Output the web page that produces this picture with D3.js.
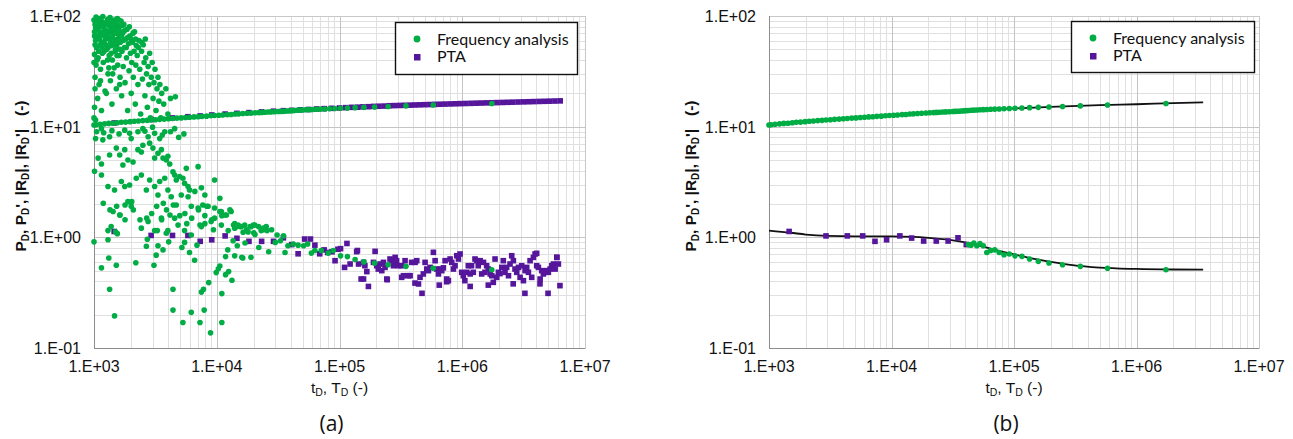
<!DOCTYPE html>
<html>
<head>
<meta charset="utf-8">
<script src="https://d3js.org/d3.v7.min.js"></script>
<style>body{margin:0;background:#fff} text{white-space:pre}</style>
</head>
<body>
<script>
// ---- data ----
var xTicks = [1e3, 1e4, 1e5, 1e6, 1e7];
var xTickLabels = ["1.E+03", "1.E+04", "1.E+05", "1.E+06", "1.E+07"];
var yTicks = [0.1, 1, 10, 100];
var yTickLabels = ["1.E-01", "1.E+00", "1.E+01", "1.E+02"];
var seriesNames = ["Frequency analysis", "PTA"];

// frequency analysis times (both panels), and the smooth upper curve values
var freqT = [1.74e6,5.80e5,3.48e5,2.49e5,1.93e5,1.58e5,1.34e5,1.16e5,1.02e5,9.16e4,8.29e4,7.57e4,6.96e4,6.45e4,6.00e4,5.61e4,5.27e4,4.97e4,4.70e4,4.46e4,4.24e4,4.05e4,3.87e4,3.70e4,3.55e4,3.41e4,3.28e4,3.16e4,2.95e4,2.76e4,2.60e4,2.45e4,2.32e4,2.20e4,2.05e4,1.91e4,1.76e4,1.63e4,1.51e4,1.41e4,1.31e4,1.22e4,1.12e4,1.04e4,9.61e3,8.92e3,8.25e3,7.60e3,7.04e3,6.52e3,6.02e3,5.56e3,5.13e3,4.74e3,4.36e3,4.04e3,3.73e3,3.43e3,3.17e3,2.92e3,2.71e3,2.50e3,2.30e3,2.13e3,1.97e3,1.81e3,1.67e3,1.55e3,1.43e3,1.32e3,1.22e3,1.12e3,1.04e3,1.00e3];
var freqUpper = [16.2,15.7,15.4,15.2,15.05,14.95,14.85,14.75,14.65,14.6,14.5,14.45,14.4,14.35,14.3,14.25,14.2,14.15,14.1,14.05,14.0,13.95,13.9,13.85,13.8,13.75,13.75,13.7,13.65,13.6,13.55,13.5,13.45,13.4,13.35,13.3,13.2,13.15,13.05,13.0,12.9,12.85,12.75,12.7,12.6,12.55,12.45,12.4,12.3,12.25,12.15,12.1,12.0,11.95,11.85,11.8,11.7,11.65,11.55,11.5,11.4,11.35,11.25,11.2,11.1,11.0,10.95,10.85,10.75,10.7,10.6,10.5,10.4,10.35];
// panel (b) lower frequency points, for the first freqT entries
var freqLowerB = [0.51,0.525,0.547,0.566,0.586,0.607,0.637,0.673,0.68,0.707,0.696,0.73,0.77,0.76,0.73,0.84,0.88,0.84,0.89,0.85,0.86];

// panel (a) lower frequency points [tD, value] (noisy)
var freqLowerA = [
[1.00e3,92],[1.01e3,72],[1.01e3,45],[1.02e3,84],[1.02e3,28],[1.03e3,60],[1.04e3,98],[1.04e3,36],[1.05e3,52],[1.06e3,76],[1.07e3,18],[1.08e3,88],[1.08e3,42],[1.09e3,64],[1.10e3,24],[1.11e3,95],[1.12e3,55],[1.13e3,33],[1.14e3,80],[1.15e3,14],[1.16e3,68],[1.17e3,46],[1.18e3,99],[1.19e3,38],[1.20e3,58],[1.22e3,86],[1.23e3,21],[1.25e3,74],[1.27e3,50],[1.29e3,93],
[1.30e3,30],[1.31e3,65],[1.32e3,82],[1.33e3,44],[1.35e3,97],[1.36e3,26],[1.37e3,57],[1.39e3,78],[1.40e3,16],[1.41e3,40],[1.43e3,90],[1.44e3,62],[1.46e3,34],[1.47e3,72],[1.49e3,48],[1.50e3,85],[1.52e3,22],[1.53e3,54],[1.55e3,95],[1.56e3,36],[1.58e3,68],[1.60e3,44],[1.61e3,80],[1.63e3,28],[1.64e3,58],[1.66e3,90],[1.68e3,19],[1.69e3,48],
[1.71e3,70],[1.73e3,35],[1.75e3,84],[1.77e3,52],[1.79e3,25],[1.81e3,62],[1.84e3,42],[1.86e3,76],[1.88e3,14],[1.91e3,56],[1.93e3,32],[1.96e3,66],[1.98e3,46],[2.01e3,20],[2.03e3,38],[2.06e3,58],[2.09e3,28],[2.12e3,48],[2.14e3,72],[2.17e3,16],[2.19e3,36],[2.21e3,54],
[2.25e3,44],[2.28e3,24],[2.32e3,60],[2.36e3,33],[2.40e3,13],[2.44e3,48],[2.48e3,27],[2.52e3,55],[2.56e3,38],[2.60e3,19],[2.64e3,42],[2.68e3,30],[2.72e3,15],[2.76e3,35],[2.80e3,24],[2.84e3,46],[2.88e3,12],[2.62e3,62],
[2.93e3,28],[2.98e3,38],[3.03e3,18],[3.08e3,25],[3.14e3,33],[3.20e3,14],[3.26e3,22],[3.32e3,28],[3.38e3,17],[3.44e3,24],[3.50e3,12],[3.56e3,20],[3.70e3,16],[3.85e3,22],[4.00e3,13],[4.20e3,18],[4.60e3,18.6],
[1.02e3,55],[1.03e3,78],[1.05e3,66],[1.07e3,92],[1.09e3,48],[1.10e3,82],[1.12e3,70],[1.13e3,26],[1.15e3,58],[1.17e3,88],[1.19e3,72],[1.21e3,48],[1.24e3,62],[1.26e3,20],[1.28e3,68],[1.30e3,52],[1.32e3,34],[1.34e3,72],[1.36e3,86],[1.38e3,46],[1.40e3,62],[1.42e3,30],[1.45e3,80],[1.48e3,58],[1.51e3,70],[1.54e3,44],[1.57e3,82],[1.60e3,60],[1.62e3,24],[1.65e3,72],
[1.01e3,66],[1.03e3,90],[1.06e3,40],[1.08e3,75],[1.11e3,62],[1.14e3,90],[1.16e3,52],[1.20e3,80],[1.22e3,66],[1.25e3,55],[1.27e3,85],[1.29e3,40],[1.33e3,62],[1.37e3,75],[1.39e3,54],[1.43e3,68],[1.46e3,92],[1.50e3,50],[1.53e3,76],[1.56e3,62],[1.59e3,92],[1.63e3,50],[1.67e3,66],[1.70e3,82],[1.74e3,60],[1.78e3,74],[1.83e3,52],[1.88e3,64],[1.94e3,80],[2.00e3,62],[2.08e3,70],[2.18e3,62],[2.30e3,52],[2.45e3,58],
[1.00e3,38],[1.01e3,15],[1.02e3,22],[1.00e3,12],[1.03e3,11.5],
[1.15e3,9.6],[1.78e3,9.3],[1.95e3,8.7],[2.01e3,7.8],[2.28e3,9.0],[2.50e3,9.6],[2.76e3,8.1],[3.12e3,8.7],[3.43e3,7.8],[3.77e3,9.0],[4.54e3,9.6],
[1.05e3,9.0],[1.20e3,8.8],[1.40e3,9.2],[1.60e3,8.6],[2.60e3,9.1],[3.00e3,9.9],[3.60e3,8.4],[4.20e3,9.0],[4.90e3,8.0],[5.40e3,8.6],
[1.03e3,7.8],[1.18e3,7.6],[1.34e3,8.1],[1.52e3,6.4],[1.78e3,6.2],[1.08e3,5.2],[1.15e3,4.6],[1.34e3,5.55],[1.62e3,5.55],[1.72e3,4.5],[1.89e3,5.0],[2.08e3,4.8],[2.28e3,6.2],[2.43e3,5.9],[2.50e3,6.8],[2.84e3,7.1],[3.02e3,6.4],[3.12e3,5.2],[3.32e3,5.75],[3.54e3,6.2],[3.65e3,5.2],[3.88e3,5.0],[4.00e3,5.4],[4.14e3,4.6],[4.40e3,3.9],[4.54e3,3.66],[4.68e3,3.3],[4.98e3,3.55],[5.30e3,3.42],[5.47e3,3.08],[5.84e3,2.88],[5.65e3,4.2],[6.00e3,2.68],[6.63e3,2.6],[7.05e3,4.35],[7.50e3,2.8],[8.00e3,2.41],[9.60e3,3.3],
[1.01e3,3.95],[1.15e3,3.66],[1.30e3,2.88],[1.47e3,2.68],[1.67e3,3.2],[1.78e3,2.88],[1.95e3,2.97],[1.89e3,2.1],[2.01e3,1.91],[2.21e3,3.42],[2.43e3,3.66],[2.67e3,2.68],[2.84e3,3.3],[3.12e3,2.88],[3.32e3,2.41],[3.43e3,3.2],[3.77e3,3.42],[4.00e3,2.68],[4.26e3,2.33],[4.68e3,1.96],[5.14e3,2.41],[5.84e3,2.33],[6.20e3,1.91],[7.05e3,1.84],[7.70e3,1.96],[8.50e3,1.91],[9.60e3,1.84],[1.06e4,2.25],[1.09e4,1.71],[1.17e4,1.59],[1.31e4,1.71],[1.40e4,1.33],[1.49e4,1.29],[1.59e4,1.25],[1.69e4,1.29],[1.91e4,1.25],[2.04e4,1.29],[2.30e4,1.15],[2.53e4,1.25],
[1.43e3,1.71],[1.62e3,1.59],[1.30e3,1.15],[1.38e3,1.25],[2.43e3,1.21],[2.76e3,1.39],[3.12e3,1.15],[3.54e3,1.49],[4.00e3,1.15],[4.54e3,1.49],[4.84e3,1.29],[5.47e3,1.15],[6.20e3,1.05],[7.50e3,1.25],[8.00e3,1.33],[9.00e3,1.39],[9.60e3,1.49],[1.09e4,1.29],[1.24e4,1.15],[1.40e4,1.21],
[1.19e3,2.03],[1.35e3,1.77],[1.53e3,1.91],[1.79e3,1.96],[2.03e3,2.1],[1.63e3,1.59],[1.79e3,1.44],[2.09e3,1.77],[2.37e3,1.44],[2.69e3,1.49],[2.95e3,1.64],[3.24e3,1.91],[3.56e3,1.44],[3.67e3,2.03],[3.90e3,1.77],[4.16e3,1.59],[4.43e3,1.96],[5.00e3,1.57],[5.50e3,1.64],[5.70e3,1.33],[6.25e3,1.49],[7.10e3,1.77],[7.30e3,1.29],[8.00e3,1.57],[8.30e3,1.91],[9.10e3,1.44],[9.40e3,1.17],[1.06e4,1.71],[1.10e4,1.57],[1.20e4,1.59],[1.28e4,1.77],[1.37e4,1.29],[1.45e4,1.25],[1.55e4,1.25],[1.64e4,1.11],[1.75e4,1.17],[1.87e4,1.25],[1.99e4,1.29],[2.19e4,1.25],[2.40e4,1.21],[2.57e4,1.15],[2.80e4,1.17],[3.10e4,1.05],[3.50e4,1.03],
[1.00e3,0.91],[1.15e3,0.53],[1.30e3,0.95],[1.32e3,0.65],[1.34e3,0.34],[1.47e3,0.195],[1.52e3,0.56],[1.50e3,1.12],[1.55e3,1.08],[2.19e3,0.59],[2.67e3,0.83],[2.72e3,0.96],[3.08e3,0.56],[3.21e3,0.69],[3.32e3,0.84],[3.28e3,1.15],[3.65e3,0.77],[3.88e3,1.09],[4.06e3,0.91],[4.40e3,0.34],[4.40e3,0.22],[5.30e3,0.17],[5.20e3,0.81],[5.47e3,0.90],[6.00e3,0.73],[6.20e3,0.21],[6.60e3,0.62],[6.90e3,0.85],[7.30e3,0.17],[7.50e3,0.32],[7.80e3,0.34],[7.90e3,0.22],[8.60e3,0.39],[8.90e3,0.137],[9.90e3,0.48],[1.03e4,0.52],[1.06e4,0.55],[1.10e4,0.31],[1.10e4,0.17],[1.18e4,0.46],[1.18e4,0.67],[1.25e4,0.49],[1.33e4,0.41],[1.40e4,0.68],[1.60e4,0.66],[1.63e4,0.65],[1.90e4,0.66],[1.23e4,0.77],[1.36e4,0.93],[1.47e4,0.84],[1.70e4,0.89],[1.80e4,1.12],[2.00e4,1.10],[2.05e4,1.06],[2.20e4,0.81],[2.65e4,0.74],[2.40e4,1.17],
[3.00e4,0.90],[3.30e4,0.93],[3.60e4,0.73],[3.80e4,0.84],[4.20e4,0.87],[4.60e4,0.85],[5.10e4,0.84],[5.50e4,0.87],[5.90e4,0.72],[6.30e4,0.76],[7.10e4,0.76],[8.10e4,0.72],[8.90e4,0.76],
[1.02e5,0.68],[1.16e5,0.67],[1.34e5,0.63],[1.58e5,0.60],[1.93e5,0.585],[2.49e5,0.565],[3.48e5,0.547],[5.80e5,0.525],[1.74e6,0.51]
];

// PTA, panel (a): upper (near-continuous band) and lower (noisy)
var ptaUpperA = [[1.46e3,10.8],[2.92e3,11.6],[4.36e3,12.0],[5.82e3,12.3],[7.33e3,12.5],[9.1e3,12.75],[1.17e4,13.0],[1.46e4,13.2],[1.83e4,13.4],[2.32e4,13.6],[2.9e4,13.8],[3.49e4,13.95],[4.08e4,14.05],[4.8e4,14.2],[5.6e4,14.3],[6.5e4,14.45],[7.5e4,14.55],[8.6e4,14.65],[1.0e5,14.75],[1.12e5,14.85],[1.25e5,14.95],[1.4e5,15.0],[1.55e5,15.1],[1.72e5,15.15],[1.9e5,15.25],[2.1e5,15.3],[2.32e5,15.35],[2.55e5,15.45],[2.8e5,15.5],[3.1e5,15.55],[3.4e5,15.6],[3.75e5,15.65],[4.1e5,15.7],[4.5e5,15.75],[4.95e5,15.8],[5.45e5,15.85],[6.0e5,15.9],[6.6e5,15.95],[7.25e5,16.0],[8.0e5,16.05],[8.8e5,16.1],[9.7e5,16.15],[1.07e6,16.2],[1.18e6,16.25],[1.3e6,16.3],[1.43e6,16.35],[1.58e6,16.4],[1.74e6,16.45],[1.92e6,16.5],[2.12e6,16.55],[2.34e6,16.6],[2.58e6,16.65],[2.85e6,16.7],[3.15e6,16.75],[3.47e6,16.8],[3.83e6,16.85],[4.23e6,16.9],[4.67e6,16.95],[5.15e6,17.0],[5.69e6,17.05],[6.28e6,17.1]];
var ptaLowerA = [[1.46e3,1.13],[2.92e3,1.04],[4.36e3,1.04],[5.82e3,1.04],[7.33e3,0.92],[9.1e3,0.95],[1.17e4,1.03],[1.46e4,0.98],[1.83e4,0.92],[2.32e4,0.92],[2.9e4,0.92],[3.49e4,0.99],[4.08e4,0.86],[4.6e4,0.71],[5.2e4,0.965],[5.8e4,0.965],[6.3e4,0.85],[6.9e4,0.71],[7.5e4,0.77],[8.0e4,0.73],[8.7e4,0.74],[9.2e4,0.615],[9.7e4,0.78],[1.02e5,0.79],[1.1e5,0.535],[1.15e5,0.88],
[1.22e5,0.574],[1.38e5,0.742],[1.40e5,0.76],[1.43e5,0.574],[1.50e5,0.42],[1.57e5,0.594],[1.57e5,0.42],[1.61e5,0.554],[1.67e5,0.49],[1.72e5,0.36],[1.89e5,0.594],[1.95e5,0.747],[2.01e5,0.554],[2.07e5,0.517],[2.14e5,0.574],[2.21e5,0.50],[2.28e5,0.594],[2.35e5,0.535],[2.43e5,0.42],[2.45e5,0.414],[2.58e5,0.637],[2.66e5,0.615],[2.75e5,0.554],[2.84e5,0.659],[2.92e5,0.615],[3.02e5,0.554],[3.21e5,0.554],[3.21e5,0.435],[3.32e5,0.45],[3.42e5,0.615],[3.64e5,0.45],[3.76e5,0.45],[3.87e5,0.594],[4.12e5,0.386],[4.13e5,0.594],[4.26e5,0.615],[4.40e5,0.379],[4.53e5,0.435],[4.70e5,0.312],[4.82e5,0.467],[4.98e5,0.594],[5.14e5,0.517],[5.30e5,0.50],[5.47e5,0.535],[5.82e5,0.732],[6.01e5,0.615],[6.20e5,0.517],[6.40e5,0.467],[6.50e5,0.37],[6.60e5,0.517],[6.81e5,0.50],[7.02e5,0.53],[7.25e5,0.615],[7.47e5,0.397],[7.48e5,0.42],[7.71e5,0.406],[7.96e5,0.637],[8.21e5,0.594],[8.47e5,0.517],[8.74e5,0.554],[9.02e5,0.682],[9.31e5,0.637],[9.60e5,0.707],[9.90e5,0.483],[1.02e6,0.45],[1.05e6,0.406],[1.09e6,0.483],[1.12e6,0.554],[1.16e6,0.467],[1.16e6,0.36],[1.19e6,0.554],[1.23e6,0.483],[1.27e6,0.637],[1.31e6,0.615],[1.35e6,0.554],[1.40e6,0.615],[1.44e6,0.467],[1.49e6,0.594],[1.53e6,0.483],[1.58e6,0.554],[1.63e6,0.517],[1.63e6,0.37],[1.69e6,0.467],[1.74e6,0.45],[1.79e6,0.392],[1.85e6,0.637],[1.91e6,0.435],[1.97e6,0.483],[2.03e6,0.47],[2.10e6,0.535],[2.16e6,0.615],[2.23e6,0.483],[2.30e6,0.535],[2.38e6,0.45],[2.45e6,0.574],[2.53e6,0.682],[2.60e6,0.38],[2.61e6,0.615],[2.69e6,0.517],[2.78e6,0.483],[2.87e6,0.535],[2.96e6,0.435],[3.05e6,0.554],[3.15e6,0.406],[3.24e6,0.312],[3.25e6,0.50],[3.35e6,0.535],[3.46e6,0.483],[3.57e6,0.615],[3.68e6,0.435],[3.80e6,0.659],[3.92e6,0.707],[4.04e6,0.554],[4.04e6,0.717],[4.17e6,0.535],[4.30e6,0.38],[4.31e6,0.42],[4.44e6,0.50],[4.58e6,0.467],[4.73e6,0.483],[4.88e6,0.50],[5.00e6,0.312],[5.03e6,0.483],[5.20e6,0.517],[5.36e6,0.554],[5.53e6,0.574],[5.71e6,0.517],[5.89e6,0.659],[5.90e6,0.66],[6.07e6,0.574],[6.25e6,0.366]];

// PTA, panel (b)
var ptaLowerB = [[1.46e3,1.13],[2.92e3,1.03],[4.36e3,1.03],[5.82e3,1.03],[7.33e3,0.92],[9.12e3,0.95],[1.17e4,1.03],[1.46e4,0.985],[1.83e4,0.926],[2.32e4,0.926],[2.90e4,0.926],[3.49e4,0.99],[4.08e4,0.86]];

// model curves, panel (b)
var modelUpperB = [[1e3,10.3],[2e3,10.95],[5e3,12.0],[1e4,12.7],[2e4,13.3],[5e4,14.1],[1e5,14.6],[2e5,15.1],[5e5,15.65],[1e6,15.95],[2e6,16.3],[3.5e6,16.55]];
var modelLowerB = [[1e3,1.15],[1.5e3,1.1],[2e3,1.06],[3e3,1.03],[5e3,1.02],[1e4,1.02],[1.5e4,1.01],[2e4,0.99],[3e4,0.95],[4e4,0.9],[5e4,0.85],[7e4,0.77],[1e5,0.7],[1.5e5,0.635],[2e5,0.6],[3e5,0.56],[5e5,0.532],[1e6,0.518],[2e6,0.512],[3.5e6,0.51]];

// ---- drawing ----
var W = 1293, H = 439;
var plotTop = 16, plotBottom = 348;
var GREEN = "#00ad45", PURPLE = "#55169b";
var FONT = "Liberation Sans, Arimo, Arial, Helvetica, sans-serif";

var svg = d3.select("body").append("svg").attr("width", W).attr("height", H);
svg.append("rect").attr("width", W).attr("height", H).attr("fill", "#fff");

function addRich(textSel, parts, subSize) {
  var wasSub = false;
  parts.forEach(function(p) {
    var ts = textSel.append("tspan").text(p[0]);
    if (p[1]) { ts.attr("font-size", subSize).attr("dy", 3); wasSub = true; }
    else if (wasSub) { ts.attr("dy", -3); wasSub = false; }
  });
}

function drawPanel(left, right, tag, titleX, legendBox, drawSeries) {
  var g = svg.append("g");
  var x = d3.scaleLog().domain([1e3, 1e7]).range([left, right]);
  var y = d3.scaleLog().domain([0.1, 100]).range([plotBottom, plotTop]);
  var crisp = function(v) { return Math.round(v) + 0.5; };

  // grid
  var minors = [];
  [1e3, 1e4, 1e5, 1e6].forEach(function(d) { for (var m = 2; m <= 9; m++) minors.push(d * m); });
  var yMinors = [];
  [0.1, 1, 10].forEach(function(d) { for (var m = 2; m <= 9; m++) yMinors.push(d * m); });
  var grid = g.append("g").attr("stroke-width", 1);
  grid.selectAll(".vx").data(minors).enter().append("line")
    .attr("x1", function(d) { return crisp(x(d)); }).attr("x2", function(d) { return crisp(x(d)); })
    .attr("y1", plotTop).attr("y2", plotBottom).attr("stroke", "#e0e0e0");
  grid.selectAll(".hy").data(yMinors).enter().append("line")
    .attr("y1", function(d) { return crisp(y(d)); }).attr("y2", function(d) { return crisp(y(d)); })
    .attr("x1", left).attr("x2", right).attr("stroke", "#e0e0e0");
  grid.selectAll(".vX").data(xTicks).enter().append("line")
    .attr("x1", function(d) { return crisp(x(d)); }).attr("x2", function(d) { return crisp(x(d)); })
    .attr("y1", plotTop).attr("y2", plotBottom).attr("stroke", "#c4c4c4");
  grid.selectAll(".hY").data(yTicks).enter().append("line")
    .attr("y1", function(d) { return crisp(y(d)); }).attr("y2", function(d) { return crisp(y(d)); })
    .attr("x1", left).attr("x2", right).attr("stroke", "#c4c4c4");

  g.append("rect").attr("x", crisp(left)).attr("y", crisp(plotTop))
    .attr("width", Math.round(right - left)).attr("height", plotBottom - plotTop)
    .attr("fill", "none").attr("stroke", "#c8c8c8");
  g.append("line").attr("x1", crisp(left)).attr("x2", crisp(left)).attr("y1", plotTop).attr("y2", plotBottom + 0.5).attr("stroke", "#8c8c8c");
  g.append("line").attr("x1", left).attr("x2", right).attr("y1", crisp(plotBottom)).attr("y2", crisp(plotBottom)).attr("stroke", "#8c8c8c");

  // tick labels
  g.selectAll(".xl").data(xTicks).enter().append("text")
    .attr("x", function(d) { return x(d); }).attr("y", 372)
    .attr("text-anchor", "middle").attr("font-family", FONT).attr("font-size", 16).attr("fill", "#111")
    .text(function(d, i) { return xTickLabels[i]; });
  g.selectAll(".yl").data(yTicks).enter().append("text")
    .attr("x", left - 13).attr("y", function(d) { return y(d) + 6; })
    .attr("text-anchor", "end").attr("font-family", FONT).attr("font-size", 16).attr("fill", "#111")
    .text(function(d, i) { return yTickLabels[i]; });

  // axis titles
  var xt = g.append("text").attr("x", (left + right) / 2).attr("y", 393)
    .attr("text-anchor", "middle").attr("font-family", FONT).attr("font-size", 15.5).attr("fill", "#111");
  addRich(xt, [["t"], ["D", 1], [", T"], ["D", 1], [" (-)"]], 10.5);
  var yt = g.append("text").attr("transform", "translate(" + titleX + "," + ((plotTop + plotBottom) / 2 - 6) + ") rotate(-90)")
    .attr("text-anchor", "middle").attr("font-family", FONT).attr("font-size", 15.5).attr("font-weight", "bold").attr("fill", "#111");
  addRich(yt, [["P"], ["D", 1], [", P"], ["D", 1], ["', |R"], ["D", 1], ["|, |R"], ["D", 1], ["'|   (-)"]], 10);

  g.append("text").attr("x", (left + right) / 2 - 8).attr("y", 431)
    .attr("text-anchor", "middle").attr("font-family", "'Open Sans', sans-serif").attr("font-size", 21).attr("fill", "#111")
    .text(tag);

  drawSeries(g, x, y);

  // legend
  var lg = g.append("g");
  lg.append("rect").attr("x", legendBox[0] + 0.5).attr("y", legendBox[1] + 0.5)
    .attr("width", legendBox[2]).attr("height", legendBox[3])
    .attr("fill", "#fff").attr("stroke", "#111").attr("stroke-width", 1.4);
  lg.append("circle").attr("cx", legendBox[0] + 22).attr("cy", legendBox[1] + 17).attr("r", 3.4).attr("fill", GREEN);
  lg.append("rect").attr("x", legendBox[0] + 19).attr("y", legendBox[1] + 32).attr("width", 6.5).attr("height", 6.5).attr("fill", PURPLE);
  seriesNames.forEach(function(n, i) {
    lg.append("text").attr("x", legendBox[0] + 42).attr("y", legendBox[1] + 23 + i * 17)
      .attr("font-family", "Lato, 'Open Sans', sans-serif").attr("font-size", 16).attr("fill", "#111").text(n);
  });
}

function dots(g, data, x, y) {
  g.append("g").selectAll("circle").data(data).enter().append("circle")
    .attr("cx", function(d) { return x(d[0]); }).attr("cy", function(d) { return y(d[1]); })
    .attr("r", 2.8).attr("fill", GREEN);
}
function squares(g, data, x, y) {
  g.append("g").selectAll("rect").data(data).enter().append("rect")
    .attr("x", function(d) { return x(d[0]) - 2.8; }).attr("y", function(d) { return y(d[1]) - 2.8; })
    .attr("width", 5.6).attr("height", 5.6).attr("fill", PURPLE);
}
var upperPairs = freqT.map(function(t, i) { return [t, freqUpper[i]]; });
var lowerPairsB = freqLowerB.map(function(v, i) { return [freqT[i], v]; });

drawPanel(94, 585, "(a)", 26, [395, 22, 182, 52], function(g, x, y) {
  squares(g, ptaUpperA, x, y);
  squares(g, ptaLowerA, x, y);
  dots(g, upperPairs, x, y);
  dots(g, freqLowerA, x, y);
});

drawPanel(769, 1259, "(b)", 696, [1071, 21, 183, 51], function(g, x, y) {
  var line = d3.line().curve(d3.curveMonotoneX)
    .x(function(d) { return x(d[0]); }).y(function(d) { return y(d[1]); });
  g.append("path").attr("d", line(modelUpperB)).attr("fill", "none").attr("stroke", "#111").attr("stroke-width", 1.8);
  g.append("path").attr("d", line(modelLowerB)).attr("fill", "none").attr("stroke", "#111").attr("stroke-width", 1.8);
  squares(g, ptaLowerB, x, y);
  dots(g, upperPairs, x, y);
  dots(g, lowerPairsB, x, y);
});
</script>
</body>
</html>
